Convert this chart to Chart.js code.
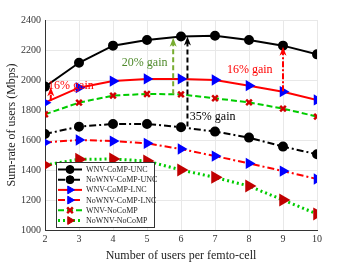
<!DOCTYPE html>
<html>
<head>
<meta charset="utf-8">
<script src="https://cdn.jsdelivr.net/npm/chart.js@4/dist/chart.umd.min.js"></script>
<style>
  html, body { margin: 0; padding: 0; background: #fff; }
</style>
</head>
<body>
<canvas id="myChart" width="350" height="263"></canvas>
<script>
// data
const users = [2, 3, 4, 5, 6, 7, 8, 9, 10];
const wnvCompUnc   = [1956, 2115, 2229, 2267, 2290, 2295, 2267, 2229, 2171];
const nownvCompUnc = [1640, 1689, 1707, 1707, 1685, 1656, 1616, 1556, 1505];
const wnvCompLnc   = [1849, 1949, 1993, 2007, 2007, 2000, 1962, 1922, 1867];
const nownvCompLnc = [1584, 1600, 1593, 1578, 1540, 1493, 1444, 1393, 1340];
const wnvNoComp    = [1771, 1849, 1896, 1907, 1904, 1878, 1851, 1809, 1756];
const nownvNoComp  = [1433, 1471, 1473, 1460, 1400, 1351, 1293, 1200, 1107];
const yTicks = [1000, 1200, 1400, 1600, 1800, 2000, 2200, 2400];

// gain arrows: x, from, to
const arrowX    = [2.17, 5.77, 6.19, 9];
const arrowFrom = [1862, 1905, 1690, 1925];
const arrowTo   = [1952, 2282, 2290, 2222];
const gainText  = ['16% gain', '20% gain', '35% gain', '16% gain'];
const gainTx    = [2.09, 4.26, 6.26, 7.35];
const gainTy    = [1958, 2113, 1753, 2067];

const serif = "'Liberation Serif', 'DejaVu Serif', serif";
const ctx = document.getElementById('myChart');

function pts(vals) {
    return users.map((u, i) => ({ x: u, y: vals[i] }));
}

const arrowStyle = [
    { color: '#ff0000', dash: [6, 2, 2, 2] },
    { color: '#77ac30', dash: [5, 3] },
    { color: '#000000', dash: [5, 3] },
    { color: '#ff0000', dash: [6, 2, 2, 2] }
];
const textColor = ['#ff0000', '#4f8a2b', '#000000', '#ff0000'];

const gainPlugin = {
    id: 'gains',
    afterDatasetsDraw(chart) {
        const c = chart.ctx;
        const xs = chart.scales.x, ys = chart.scales.y;
        c.save();
        for (let i = 0; i < arrowX.length; i++) {
            const px = xs.getPixelForValue(arrowX[i]);
            const p0 = ys.getPixelForValue(arrowFrom[i]);
            const p1 = ys.getPixelForValue(arrowTo[i]);
            c.strokeStyle = arrowStyle[i].color;
            c.fillStyle = arrowStyle[i].color;
            c.lineWidth = 2;
            c.setLineDash(arrowStyle[i].dash);
            c.beginPath();
            c.moveTo(px, p0);
            c.lineTo(px, p1 + 5);
            c.stroke();
            c.setLineDash([]);
            c.beginPath();
            c.moveTo(px, p1);
            c.lineTo(px - 3.5, p1 + 9);
            c.lineTo(px, p1 + 6.5);
            c.lineTo(px + 3.5, p1 + 9);
            c.closePath();
            c.fill();
        }
        c.font = '12px ' + serif;
        c.textBaseline = 'middle';
        c.textAlign = 'left';
        for (let i = 0; i < gainText.length; i++) {
            c.fillStyle = textColor[i];
            c.fillText(gainText[i], xs.getPixelForValue(gainTx[i]), ys.getPixelForValue(gainTy[i]));
        }
        c.restore();
    }
};

const legendPlugin = {
    id: 'boxLegend',
    afterDraw(chart) {
        const c = chart.ctx;
        const ca = chart.chartArea;
        const left = ca.left + 11, top = ca.bottom - 68, w = 98, h = 65;
        c.save();
        c.fillStyle = '#fff';
        c.fillRect(left, top, w, h);
        c.strokeStyle = '#333';
        c.lineWidth = 1;
        c.strokeRect(left + 0.5, top + 0.5, w, h);
        c.font = '8px ' + serif;
        c.textBaseline = 'middle';
        chart.data.datasets.forEach((ds, i) => {
            const y = top + 7.5 + i * 10.2;
            c.strokeStyle = ds.borderColor;
            c.lineWidth = ds.borderWidth;
            c.setLineDash(ds.borderDash || []);
            c.beginPath();
            c.moveTo(left + 2, y);
            c.lineTo(left + 26, y);
            c.stroke();
            c.setLineDash([]);
            c.fillStyle = ds.pointBackgroundColor;
            c.strokeStyle = ds.pointBorderColor;
            c.lineWidth = ds.pointBorderWidth || 1;
            Chart.helpers.drawPoint(c, {
                pointStyle: ds.pointStyle,
                rotation: ds.pointRotation || 0,
                radius: ds.pointRadius,
                borderWidth: ds.pointBorderWidth || 1
            }, left + 14, y);
            c.fillStyle = '#222';
            c.fillText(ds.label, left + 30, y + 0.5);
        });
        c.restore();
    }
};

new Chart(ctx, {
    type: 'line',
    data: {
        datasets: [
            { label: 'WNV-CoMP-UNC', data: pts(wnvCompUnc), borderColor: '#000', borderWidth: 2,
              pointStyle: 'circle', pointRadius: 4, pointBackgroundColor: '#000', pointBorderColor: '#000' },
            { label: 'NoWNV-CoMP-UNC', data: pts(nownvCompUnc), borderColor: '#000', borderWidth: 2, borderDash: [7, 3, 2, 3],
              pointStyle: 'circle', pointRadius: 4, pointBackgroundColor: '#000', pointBorderColor: '#000' },
            { label: 'WNV-CoMP-LNC', data: pts(wnvCompLnc), borderColor: '#ff0000', borderWidth: 2,
              pointStyle: 'triangle', pointRotation: 90, pointRadius: 4.5, pointBackgroundColor: '#0000ff', pointBorderColor: '#0000ff' },
            { label: 'NoWNV-CoMP-LNC', data: pts(nownvCompLnc), borderColor: '#ff0000', borderWidth: 2, borderDash: [7, 3, 2, 3],
              pointStyle: 'triangle', pointRotation: 90, pointRadius: 4.5, pointBackgroundColor: '#0000ff', pointBorderColor: '#0000ff' },
            { label: 'WNV-NoCoMP', data: pts(wnvNoComp), borderColor: '#00cc00', borderWidth: 2, borderDash: [6, 3],
              pointStyle: 'crossRot', pointRadius: 4, pointBorderWidth: 2.5, pointBackgroundColor: '#d00000', pointBorderColor: '#d00000' },
            { label: 'NoWNV-NoCoMP', data: pts(nownvNoComp), borderColor: '#00cc00', borderWidth: 3, borderDash: [2, 3],
              pointStyle: 'triangle', pointRotation: 90, pointRadius: 4.5, pointBackgroundColor: '#c00000', pointBorderColor: '#c00000' }
        ]
    },
    options: {
        responsive: false,
        animation: false,
        layout: { padding: { top: 20, right: 33, left: 0, bottom: 0 } },
        plugins: { legend: { display: false }, tooltip: { enabled: false } },
        scales: {
            x: {
                type: 'linear', min: 2, max: 10,
                ticks: { stepSize: 1, color: '#333', font: { family: serif, size: 10 }, padding: 3 },
                grid: { color: '#e8e8e8', drawTicks: false },
                border: { color: '#333' },
                title: { display: true, text: 'Number of users per femto-cell', color: '#222',
                         font: { family: serif, size: 12 }, padding: { top: 2, bottom: 0 } },
                afterFit(s) { s.height = 33; }
            },
            y: {
                min: 1000, max: 2400,
                afterBuildTicks(s) { s.ticks = yTicks.map(v => ({ value: v })); },
                ticks: { color: '#333', font: { family: serif, size: 10 }, padding: 4,
                         callback: v => String(v) },
                grid: { color: '#e8e8e8', drawTicks: false },
                border: { color: '#333' },
                title: { display: true, text: 'Sum-rate of users (Mbps)', color: '#222',
                         font: { family: serif, size: 12 }, padding: { top: 5, bottom: 0 } },
                afterFit(s) { s.width = 45; }
            }
        }
    },
    plugins: [gainPlugin, legendPlugin]
});
</script>
</body>
</html>
